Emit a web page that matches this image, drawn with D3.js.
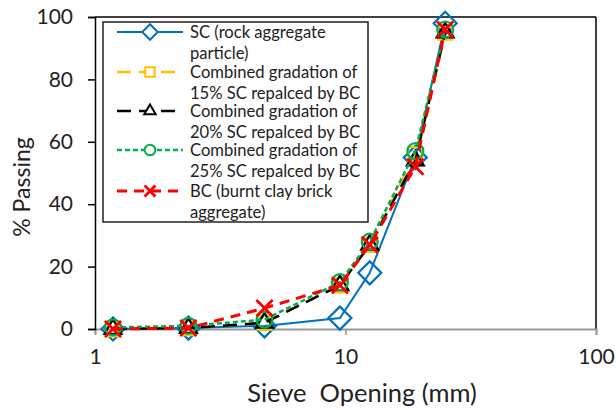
<!DOCTYPE html>
<html><head><meta charset="utf-8">
<script src="https://cdn.jsdelivr.net/npm/d3@7"></script>
<style>body{margin:0;background:#fff}svg{display:block}text{font-family:Lato,"Open Sans",sans-serif;fill:#222}</style>
</head><body><svg id="c" width="616" height="410"></svg>
<script>
const sieve = [1.18, 2.36, 4.75, 9.5, 12.5, 19, 25];
const sc    = [0, 0.3, 1, 3.5, 18, 55, 98];
const p15   = [0, 0.3, 2, 14, 27, 56, 95];
const p20   = [0, 0.3, 2, 14, 27, 54, 95];
const p25   = [0.5, 1, 3, 15, 28, 57, 96];
const bc    = [0, 0.3, 6.7, 14, 27, 52, 96];
const xTicks = [1, 10, 100];
const yTicks = [0, 20, 40, 60, 80, 100];
const labels = [
  ["SC (rock aggregate", "particle)"],
  ["Combined gradation of", "15% SC repalced by BC"],
  ["Combined gradation of", "20% SC repalced by BC"],
  ["Combined gradation of", "25% SC repalced by BC"],
  ["BC (burnt clay brick", "aggregate)"]
];
const xPath = s => { const h = Math.sqrt(s)/2; return `M${-h},${-h}L${h},${h}M${-h},${h}L${h},${-h}`; };
const series = [
  {v: sc,  color: "#0070C0", dash: null,    w: 2,   sym: d3.symbolSquare,  size: 265, rot: 45},
  {v: p15, color: "#FFC000", dash: "14,8",  w: 2.5, sym: d3.symbolSquare,  size: 200, rot: 0},
  {v: p20, color: "#000000", dash: "14,8",  w: 2.5, sym: d3.symbolTriangle,size: 125, rot: 0},
  {v: p25, color: "#00B050", dash: "5,3",   w: 2.5, sym: d3.symbolCircle,  size: 200, rot: 0},
  {v: bc,  color: "#FF0000", dash: "10,7",  w: 3,   sym: "x",              size: 260, rot: 0}
];
const symPath = (s, k) => s.sym === "x" ? xPath(s.size*k) : d3.symbol().type(s.sym).size(s.size*k)();
const svg = d3.select("#c");
const x = d3.scaleLog().domain([1, 100]).range([95, 596]);
const y = d3.scaleLinear().domain([0, 100]).range([329, 17]);

// plot border
svg.append("line").attr("x1",95).attr("x2",596).attr("y1",17).attr("y2",17).attr("stroke","#000").attr("stroke-width",1.5);
svg.append("line").attr("x1",596).attr("x2",596).attr("y1",17).attr("y2",329).attr("stroke","#000").attr("stroke-width",1.5);

// x axis
const xa = svg.append("g").attr("transform","translate(0,329)")
  .call(d3.axisBottom(x).tickValues(xTicks).tickFormat(d3.format("d")).tickSizeOuter(0).tickSize(6).tickPadding(14));
xa.select(".domain").attr("stroke","#999").attr("stroke-width",2);
xa.selectAll(".tick line").attr("stroke","#999").attr("stroke-width",1.5);
xa.selectAll("text").attr("font-size",21).attr("fill","#222").style("font-family","Lato");

// y axis
const ya = svg.append("g").attr("transform","translate(95,0)")
  .call(d3.axisLeft(y).tickValues(yTicks).tickSizeOuter(0).tickSize(7).tickPadding(15));
ya.select(".domain").attr("stroke","#000").attr("stroke-width",1.5);
ya.selectAll(".tick line").attr("stroke","#000").attr("stroke-width",1.5);
ya.selectAll("text").attr("font-size",21).attr("fill","#222").style("font-family","Lato");

// titles
svg.append("text").attr("x",362).attr("y",402).attr("text-anchor","middle").attr("font-size",25.5).style("white-space","pre").text("Sieve  Opening (mm)");
svg.append("text").attr("transform","translate(30,187) rotate(-90)").attr("text-anchor","middle").attr("font-size",23).text("% Passing");

// series
const line = d3.line().x((d,i)=>x(sieve[i])).y(d=>y(d));
series.forEach(s => {
  svg.append("path").datum(s.v).attr("d", line).attr("fill","none")
    .attr("stroke", s.color).attr("stroke-width", s.w).attr("stroke-dasharray", s.dash);
  svg.append("g").selectAll("path").data(s.v).join("path")
    .attr("transform",(d,i)=>`translate(${x(sieve[i])},${y(d)}) rotate(${s.rot})`)
    .attr("d", symPath(s, 1))
    .attr("fill", "none")
    .attr("stroke", s.color).attr("stroke-width", s.sym === "x" ? 2.8 : 2.2);
});

// legend
const lg = svg.append("g");
lg.append("rect").attr("x",103).attr("y",22).attr("width",265).attr("height",200).attr("fill","#fff").attr("stroke","#222").attr("stroke-width",1.5);
const ly = [32, 72, 111, 150, 191];
series.forEach((s, k) => {
  lg.append("line").attr("x1",117).attr("x2",183).attr("y1",ly[k]).attr("y2",ly[k])
    .attr("stroke", s.color).attr("stroke-width", s.w).attr("stroke-dasharray", s.dash);
  lg.append("path").attr("transform",`translate(150,${ly[k]}) rotate(${s.rot})`)
    .attr("d", symPath(s, 0.45))
    .attr("fill", "#fff")
    .attr("stroke", s.color).attr("stroke-width", s.sym === "x" ? 2.8 : 2);
  labels[k].forEach((t, j) => {
    lg.append("text").attr("x",190).attr("y",ly[k] + 6 + j*20.5).attr("font-size",16.6).text(t);
  });
});
</script></body></html>
